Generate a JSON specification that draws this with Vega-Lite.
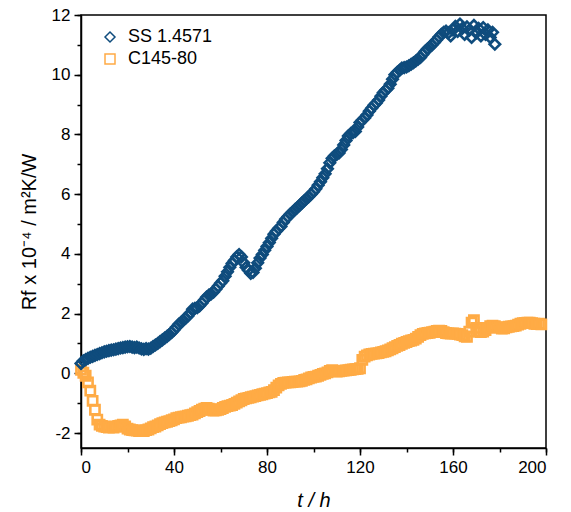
{
"$schema":"https://vega.github.io/schema/vega-lite/v6.json",
"width":465,"height":433,
"autosize":{"type":"none"},
"padding":{"left":81,"top":15,"right":25,"bottom":64},
"config":{"view":{"stroke":"#000","strokeWidth":1.5},"font":"Liberation Sans",
"axis":{"grid":false,"domainColor":"#000","domainWidth":1.5,"tickColor":"#000","tickWidth":1.5,"labelColor":"#000","labelFontSize":17,"titleFontSize":20,"titleFontWeight":"normal","titleColor":"#000","labelFont":"Liberation Sans","titleFont":"Liberation Sans"}},
"datasets":{
"ss":[{"t":0,"v":0.33},{"t":1,"v":0.42},{"t":2,"v":0.46},{"t":3,"v":0.5},{"t":4,"v":0.54},{"t":5,"v":0.57},{"t":6,"v":0.6},{"t":7,"v":0.63},{"t":8,"v":0.66},{"t":9,"v":0.69},{"t":10,"v":0.72},{"t":11,"v":0.74},{"t":12,"v":0.76},{"t":13,"v":0.78},{"t":14,"v":0.79},{"t":15,"v":0.81},{"t":16,"v":0.83},{"t":17,"v":0.85},{"t":18,"v":0.86},{"t":19,"v":0.88},{"t":20,"v":0.89},{"t":21,"v":0.9},{"t":22,"v":0.88},{"t":23,"v":0.86},{"t":24,"v":0.88},{"t":25,"v":0.85},{"t":26,"v":0.82},{"t":27,"v":0.8},{"t":28,"v":0.83},{"t":29,"v":0.81},{"t":30,"v":0.84},{"t":31,"v":0.9},{"t":32,"v":0.95},{"t":33,"v":1.0},{"t":34,"v":1.06},{"t":35,"v":1.12},{"t":36,"v":1.18},{"t":37,"v":1.24},{"t":38,"v":1.3},{"t":39,"v":1.37},{"t":40,"v":1.45},{"t":41,"v":1.55},{"t":42,"v":1.64},{"t":43,"v":1.7},{"t":44,"v":1.78},{"t":45,"v":1.85},{"t":46,"v":1.92},{"t":47,"v":2.02},{"t":48,"v":2.15},{"t":49,"v":2.18},{"t":50,"v":2.2},{"t":51,"v":2.26},{"t":52,"v":2.35},{"t":53,"v":2.45},{"t":54,"v":2.55},{"t":55,"v":2.62},{"t":56,"v":2.66},{"t":57,"v":2.72},{"t":58,"v":2.82},{"t":59,"v":2.92},{"t":60,"v":3.02},{"t":61,"v":3.1},{"t":62,"v":3.25},{"t":63,"v":3.4},{"t":64,"v":3.55},{"t":65,"v":3.68},{"t":66,"v":3.78},{"t":67,"v":3.9},{"t":68,"v":3.98},{"t":69,"v":3.9},{"t":70,"v":3.7},{"t":71,"v":3.55},{"t":72,"v":3.45},{"t":73,"v":3.35},{"t":74,"v":3.38},{"t":75,"v":3.52},{"t":76,"v":3.7},{"t":77,"v":3.86},{"t":78,"v":3.98},{"t":79,"v":4.12},{"t":80,"v":4.25},{"t":81,"v":4.38},{"t":82,"v":4.52},{"t":83,"v":4.66},{"t":84,"v":4.76},{"t":85,"v":4.85},{"t":86,"v":4.92},{"t":87,"v":5.05},{"t":88,"v":5.16},{"t":89,"v":5.25},{"t":90,"v":5.33},{"t":91,"v":5.4},{"t":92,"v":5.48},{"t":93,"v":5.55},{"t":94,"v":5.62},{"t":95,"v":5.7},{"t":96,"v":5.78},{"t":97,"v":5.85},{"t":98,"v":5.92},{"t":99,"v":6.0},{"t":100,"v":6.08},{"t":101,"v":6.18},{"t":102,"v":6.3},{"t":103,"v":6.42},{"t":104,"v":6.55},{"t":105,"v":6.68},{"t":106,"v":6.85},{"t":107,"v":7.05},{"t":108,"v":7.2},{"t":109,"v":7.28},{"t":110,"v":7.33},{"t":111,"v":7.38},{"t":112,"v":7.5},{"t":113,"v":7.65},{"t":114,"v":7.8},{"t":115,"v":7.95},{"t":116,"v":8.03},{"t":117,"v":8.06},{"t":118,"v":8.1},{"t":119,"v":8.25},{"t":120,"v":8.4},{"t":121,"v":8.48},{"t":122,"v":8.55},{"t":123,"v":8.65},{"t":124,"v":8.78},{"t":125,"v":8.88},{"t":126,"v":8.98},{"t":127,"v":9.05},{"t":128,"v":9.15},{"t":129,"v":9.28},{"t":130,"v":9.4},{"t":131,"v":9.48},{"t":132,"v":9.55},{"t":133,"v":9.68},{"t":134,"v":9.85},{"t":135,"v":10.0},{"t":136,"v":10.08},{"t":137,"v":10.15},{"t":138,"v":10.22},{"t":139,"v":10.24},{"t":140,"v":10.26},{"t":141,"v":10.3},{"t":142,"v":10.35},{"t":143,"v":10.4},{"t":144,"v":10.46},{"t":145,"v":10.52},{"t":146,"v":10.58},{"t":147,"v":10.68},{"t":148,"v":10.78},{"t":149,"v":10.86},{"t":150,"v":10.93},{"t":151,"v":11.0},{"t":152,"v":11.08},{"t":153,"v":11.17},{"t":154,"v":11.27},{"t":155,"v":11.35},{"t":156,"v":11.42},{"t":157,"v":11.46},{"t":158,"v":11.4},{"t":159,"v":11.3},{"t":160,"v":11.5},{"t":161,"v":11.62},{"t":162,"v":11.45},{"t":163,"v":11.7},{"t":164,"v":11.55},{"t":165,"v":11.35},{"t":166,"v":11.6},{"t":167,"v":11.48},{"t":168,"v":11.25},{"t":169,"v":11.65},{"t":170,"v":11.4},{"t":171,"v":11.55},{"t":172,"v":11.3},{"t":173,"v":11.58},{"t":174,"v":11.35},{"t":175,"v":11.5},{"t":176,"v":11.25},{"t":177,"v":11.42},{"t":178,"v":11.02}],
"c":[{"t":0,"v":0.12},{"t":1,"v":0.02},{"t":2,"v":-0.08},{"t":3,"v":-0.3},{"t":4,"v":-0.58},{"t":5,"v":-0.92},{"t":6,"v":-1.22},{"t":7,"v":-1.55},{"t":8,"v":-1.72},{"t":9,"v":-1.76},{"t":10,"v":-1.78},{"t":11,"v":-1.8},{"t":12,"v":-1.82},{"t":13,"v":-1.8},{"t":14,"v":-1.82},{"t":15,"v":-1.78},{"t":16,"v":-1.76},{"t":17,"v":-1.74},{"t":18,"v":-1.72},{"t":19,"v":-1.78},{"t":20,"v":-1.85},{"t":21,"v":-1.88},{"t":22,"v":-1.9},{"t":23,"v":-1.91},{"t":24,"v":-1.92},{"t":25,"v":-1.93},{"t":26,"v":-1.92},{"t":27,"v":-1.93},{"t":28,"v":-1.9},{"t":29,"v":-1.88},{"t":30,"v":-1.84},{"t":31,"v":-1.8},{"t":32,"v":-1.78},{"t":33,"v":-1.74},{"t":34,"v":-1.7},{"t":35,"v":-1.67},{"t":36,"v":-1.64},{"t":37,"v":-1.62},{"t":38,"v":-1.6},{"t":39,"v":-1.57},{"t":40,"v":-1.54},{"t":41,"v":-1.5},{"t":42,"v":-1.48},{"t":43,"v":-1.47},{"t":44,"v":-1.45},{"t":45,"v":-1.44},{"t":46,"v":-1.42},{"t":47,"v":-1.4},{"t":48,"v":-1.38},{"t":49,"v":-1.34},{"t":50,"v":-1.3},{"t":51,"v":-1.26},{"t":52,"v":-1.22},{"t":53,"v":-1.18},{"t":54,"v":-1.16},{"t":55,"v":-1.18},{"t":56,"v":-1.22},{"t":57,"v":-1.25},{"t":58,"v":-1.24},{"t":59,"v":-1.22},{"t":60,"v":-1.2},{"t":61,"v":-1.16},{"t":62,"v":-1.12},{"t":63,"v":-1.1},{"t":64,"v":-1.08},{"t":65,"v":-1.06},{"t":66,"v":-1.02},{"t":67,"v":-0.98},{"t":68,"v":-0.94},{"t":69,"v":-0.9},{"t":70,"v":-0.86},{"t":71,"v":-0.84},{"t":72,"v":-0.82},{"t":73,"v":-0.8},{"t":74,"v":-0.78},{"t":75,"v":-0.76},{"t":76,"v":-0.74},{"t":77,"v":-0.72},{"t":78,"v":-0.7},{"t":79,"v":-0.68},{"t":80,"v":-0.66},{"t":81,"v":-0.64},{"t":82,"v":-0.62},{"t":83,"v":-0.56},{"t":84,"v":-0.48},{"t":85,"v":-0.4},{"t":86,"v":-0.35},{"t":87,"v":-0.32},{"t":88,"v":-0.31},{"t":89,"v":-0.3},{"t":90,"v":-0.3},{"t":91,"v":-0.29},{"t":92,"v":-0.28},{"t":93,"v":-0.28},{"t":94,"v":-0.27},{"t":95,"v":-0.25},{"t":96,"v":-0.22},{"t":97,"v":-0.2},{"t":98,"v":-0.17},{"t":99,"v":-0.14},{"t":100,"v":-0.12},{"t":101,"v":-0.11},{"t":102,"v":-0.08},{"t":103,"v":-0.05},{"t":104,"v":-0.02},{"t":105,"v":0.0},{"t":106,"v":0.03},{"t":107,"v":0.08},{"t":108,"v":0.11},{"t":109,"v":0.08},{"t":110,"v":0.06},{"t":111,"v":0.07},{"t":112,"v":0.08},{"t":113,"v":0.09},{"t":114,"v":0.1},{"t":115,"v":0.11},{"t":116,"v":0.12},{"t":117,"v":0.13},{"t":118,"v":0.14},{"t":119,"v":0.15},{"t":120,"v":0.17},{"t":121,"v":0.45},{"t":122,"v":0.56},{"t":123,"v":0.6},{"t":124,"v":0.63},{"t":125,"v":0.65},{"t":126,"v":0.66},{"t":127,"v":0.67},{"t":128,"v":0.68},{"t":129,"v":0.7},{"t":130,"v":0.72},{"t":131,"v":0.74},{"t":132,"v":0.77},{"t":133,"v":0.8},{"t":134,"v":0.84},{"t":135,"v":0.88},{"t":136,"v":0.92},{"t":137,"v":0.95},{"t":138,"v":0.99},{"t":139,"v":1.02},{"t":140,"v":1.05},{"t":141,"v":1.08},{"t":142,"v":1.1},{"t":143,"v":1.12},{"t":144,"v":1.16},{"t":145,"v":1.22},{"t":146,"v":1.28},{"t":147,"v":1.32},{"t":148,"v":1.34},{"t":149,"v":1.35},{"t":150,"v":1.36},{"t":151,"v":1.38},{"t":152,"v":1.4},{"t":153,"v":1.42},{"t":154,"v":1.43},{"t":155,"v":1.42},{"t":156,"v":1.38},{"t":157,"v":1.35},{"t":158,"v":1.34},{"t":159,"v":1.33},{"t":160,"v":1.34},{"t":161,"v":1.33},{"t":162,"v":1.32},{"t":163,"v":1.3},{"t":164,"v":1.28},{"t":165,"v":1.24},{"t":166,"v":1.22},{"t":167,"v":1.4},{"t":168,"v":1.7},{"t":169,"v":1.78},{"t":170,"v":1.52},{"t":171,"v":1.4},{"t":172,"v":1.38},{"t":173,"v":1.4},{"t":174,"v":1.45},{"t":175,"v":1.52},{"t":176,"v":1.58},{"t":177,"v":1.6},{"t":178,"v":1.58},{"t":179,"v":1.55},{"t":180,"v":1.52},{"t":181,"v":1.5},{"t":182,"v":1.51},{"t":183,"v":1.54},{"t":184,"v":1.56},{"t":185,"v":1.57},{"t":186,"v":1.58},{"t":187,"v":1.6},{"t":188,"v":1.63},{"t":189,"v":1.66},{"t":190,"v":1.68},{"t":191,"v":1.69},{"t":192,"v":1.7},{"t":193,"v":1.7},{"t":194,"v":1.68},{"t":195,"v":1.66},{"t":196,"v":1.65},{"t":197,"v":1.66},{"t":198,"v":1.64}]
},
"resolve":{"axis":{"x":"independent","y":"independent"}},
"layer":[
{"data":{"name":"c"},
"mark":{"type":"point","filled":false,"strokeWidth":2.6,"size":85,"opacity":1},
"encoding":{
"x":{"field":"t","type":"quantitative","scale":{"domain":[0,200],"nice":false},"axis":{"orient":"bottom","values":[0,20,40,60,80,100,120,140,160,180,200],"labels":false,"title":null,"tickSize":4,"domain":false}},
"y":{"field":"v","type":"quantitative","scale":{"domain":[-2.5,12],"nice":false,"zero":false},"axis":{"orient":"left","values":[-2,-1,0,1,2,3,4,5,6,7,8,9,10,11,12],"labels":false,"title":null,"tickSize":4,"domain":false}},
"color":{"datum":"C145-80","scale":{"domain":["SS 1.4571","C145-80"],"range":["#0f4c7d","#ffab45"]},"legend":{"title":null,"orient":"none","legendX":20,"legendY":13,"padding":0,"labelFontSize":18,"labelColor":"#000","labelFont":"Liberation Sans","symbolSize":100,"symbolStrokeWidth":1.5,"symbolFillColor":"transparent","labelOffset":9,"rowPadding":4}},
"shape":{"datum":"C145-80","scale":{"domain":["SS 1.4571","C145-80"],"range":["diamond","square"]},"legend":{"title":null,"orient":"none","legendX":20,"legendY":13,"padding":0,"labelFontSize":18,"labelColor":"#000","labelFont":"Liberation Sans","symbolSize":100,"symbolStrokeWidth":1.5,"symbolFillColor":"transparent","labelOffset":9,"rowPadding":4}}
}},
{"data":{"name":"ss"},
"mark":{"type":"point","filled":false,"strokeWidth":2.6,"size":110,"opacity":1},
"encoding":{
"x":{"field":"t","type":"quantitative","scale":{"domain":[0,200],"nice":false},"axis":{"orient":"bottom","values":[0,40,80,120,160,200],"title":"t / h","titleFontStyle":"italic","tickSize":7,"labelPadding":4,"titlePadding":15}},
"y":{"field":"v","type":"quantitative","scale":{"domain":[-2.5,12],"nice":false,"zero":false},"axis":{"orient":"left","values":[-2,0,2,4,6,8,10,12],"labelExpr":"toString(datum.value)","title":"Rf x 10⁻⁴ / m²K/W","tickSize":7,"labelPadding":4,"titlePadding":12}},
"color":{"datum":"SS 1.4571"},
"shape":{"datum":"SS 1.4571"}
}}
]
}
